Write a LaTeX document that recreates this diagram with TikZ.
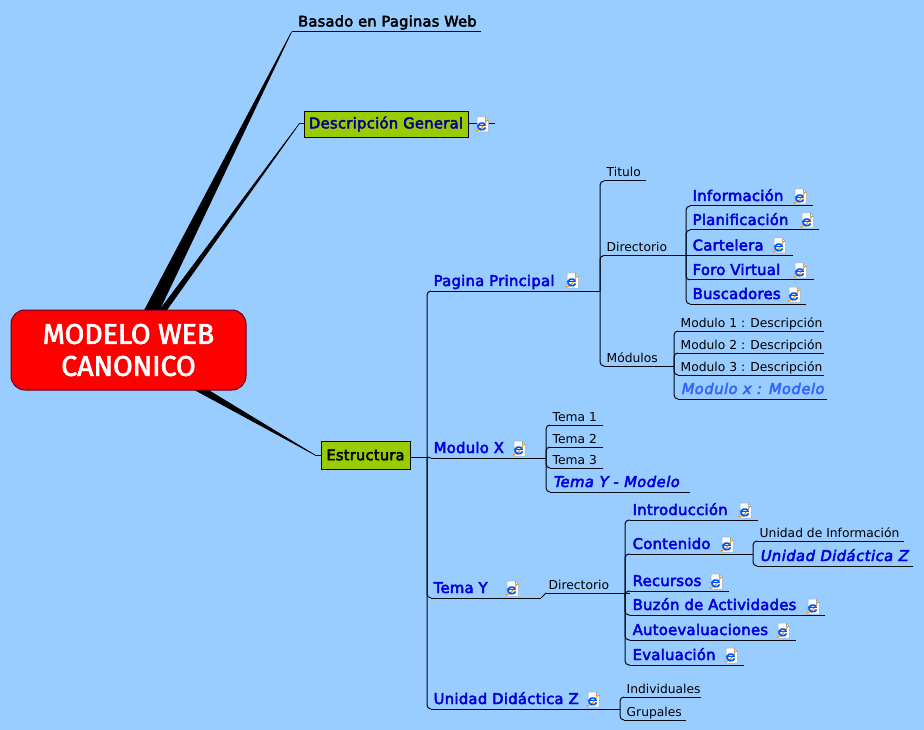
\documentclass[tikz,border=0pt]{standalone}
\usepackage{fontspec}
\setmainfont{DejaVu Sans}
\newfontfamily\semi[FakeBold=3.2,LetterSpace=1.8]{DejaVu Sans}
\newfontfamily\semiit[FakeBold=3.2,FakeSlant=0.2,LetterSpace=3.2]{DejaVu Sans}
\newfontfamily\rootf[FakeBold=2.5]{Fira Sans}
\definecolor{bgc}{HTML}{99CCFF}
\definecolor{linkblue}{HTML}{0000DD}
\definecolor{boxgreen}{HTML}{99CC00}
\definecolor{darkblue}{HTML}{000099}
\definecolor{modelblue}{HTML}{3366FF}
\definecolor{rootred}{HTML}{FF0000}
\definecolor{rootedge}{HTML}{660022}
\definecolor{linec}{HTML}{000814}
\tikzset{
  lbl/.style={anchor=base west,inner sep=0pt,yshift=-0.5pt,font=\fontsize{12.3}{14}\selectfont,text=black},
  bigl/.style={anchor=base west,inner sep=0pt,yshift=0.5pt,font=\semi\fontsize{14.8}{18}\selectfont,text=linkblue},
  itl/.style={anchor=base west,inner sep=0pt,yshift=0.5pt,font=\semiit\fontsize{14.8}{18}\selectfont,text=linkblue},
  topbox/.style={draw=black,fill=boxgreen,minimum height=26pt,inner sep=0pt,anchor=center},
  conn/.style={draw=linec,line width=1pt,rounded corners=4pt},
  wedge/.style={fill=black,draw=black,line width=.6pt,line join=round},
  pic page/.style={fill=white,draw=black!35,line width=.5pt},
}
\newcommand{\topic}[6][lbl]{%
  \coordinate (#2-a) at (#3,#5);
  \coordinate (#2-b) at (#4,#5);
  \draw[linec,line width=1pt] (#2-a) -- (#2-b);
  \node[#1] (#2) at (#3+2.5,#5-4.5) {#6};
}
\newcommand{\ieicon}[2]{%
  \begin{scope}[shift={(#1,#2)}]
    \path[pic page] (2,0) -- (10,0) -- (13.5,3.5) -- (13.5,15) -- (2,15) -- cycle;
    \draw[black!35,line width=.4pt] (10,0) -- (10,3.5) -- (13.5,3.5);
    \draw[color=orange!85!yellow,line width=1.1pt] (0.5,14) .. controls (2.5,15) and (10,9) .. (11.5,3.5);
    \draw[color=blue!65!cyan,line width=1.8pt] (10.6,10.6) arc (20:330:4 and 3.4);
    \draw[color=blue!65!cyan,line width=1.1pt] (3,8.6) -- (11,8.6);
  \end{scope}
}
\begin{document}
\begin{tikzpicture}[x=1pt,y=-1pt]
\useasboundingbox (0,0) rectangle (924,730);
\fill[bgc] (0,0) rectangle (924,730);

\coordinate (tipA) at (291.5,32);
\coordinate (tipB) at (299,124);
\coordinate (tipC) at (315,455);
\coordinate (wA1) at (144,311); \coordinate (wA2) at (159,311);
\coordinate (wB1) at (159,311); \coordinate (wB2) at (166,311);
\coordinate (wC1) at (195,390); \coordinate (wC2) at (208,390);
\fill[wedge,draw] (wA1) -- (tipA) -- (wA2) -- cycle;
\fill[wedge,draw] (wB1) -- (tipB) -- (wB2) -- cycle;
\fill[wedge,draw] (wC1) -- (tipC) -- (wC2) -- cycle;

\node[draw=rootedge,fill=rootred,rounded corners=14pt,line width=1pt,minimum width=235pt,minimum height=80pt,inner sep=0pt,align=center,text=white,font=\rootf\fontsize{28.5}{32}\selectfont] (root) at (128.5,350) {MODELO WEB\\CANONICO};

\topic[lbl,yshift=1.5pt,font=\semi\fontsize{14.6}{18}\selectfont]{basado}{292}{481}{32}{\hspace{3.5pt}Basado en Paginas Web}

\node[topbox,minimum width=164pt,text=darkblue,font=\semi\fontsize{14.8}{18}\selectfont] (desc) at (386,124) {Descripción General};
\coordinate (descEnd) at (495,124);
\draw[linec,line width=1pt] (tipB) -- (desc.west);
\draw[linec,line width=1pt] (desc.east) -- (descEnd);
\ieicon{475}{117}

\node[topbox,minimum width=89pt,minimum height=28pt,font=\semi\fontsize{14.6}{18}\selectfont] (estr) at (365.5,455) {Estructura};
\draw[linec,line width=1pt] (tipC) -- (estr.west);
\coordinate (trunkE) at (427,457);
\draw[linec,line width=1pt] (estr.east |- trunkE) -- (trunkE);

\topic[bigl]{pp}{431}{600}{291}{Pagina Principal}
\topic[bigl]{mx}{431}{546}{458}{Modulo X}
\topic[bigl]{ty}{431}{541}{598}{Tema Y}
\topic[bigl]{uz}{431}{620}{709}{Unidad Didáctica Z}
\draw[conn] (trunkE) |- (pp-a);
\draw[conn] (trunkE) |- (uz-a);
\draw[conn] (trunkE) -- (mx-a);
\draw[conn] (trunkE) |- (ty-a);

\coordinate (jpp) at (600,291);
\topic{tit}{604}{646}{181}{Titulo}
\topic{dir}{604}{690}{255.5}{Directorio}
\topic{mod}{604}{674}{366}{Módulos}
\draw[conn] (jpp) |- (tit-a);
\draw[conn] (jpp) |- (dir-a);
\draw[conn] (jpp) |- (mod-a);

\coordinate (jdir) at (686,255.5);
\topic[bigl]{inf}{690}{813}{206}{Información}
\topic[bigl]{pla}{690}{819}{230}{Planificación}
\topic[bigl]{car}{690}{793}{255.5}{Cartelera}
\topic[bigl]{for}{690}{814}{280}{Foro Virtual}
\topic[bigl]{bus}{690}{806}{304}{Buscadores}
\foreach \k in {inf,pla,for,bus} {\draw[conn] (jdir) |- (\k-a);}
\draw[conn] (jdir) -- (car-a);

\coordinate (jmod) at (674,366);
\topic{m1}{678}{824}{331}{Modulo 1 : Descripción}
\topic{m2}{678}{824}{353}{Modulo 2 : Descripción}
\topic{m3}{678}{824}{375}{Modulo 3 : Descripción}
\topic[itl,text=modelblue]{m4}{678}{827}{399}{Modulo x : Modelo}
\foreach \k in {m1,m2,m3,m4} {\draw[conn] (jmod) |- (\k-a);}

\coordinate (jmx) at (546,458);
\topic{t1}{550}{603}{425}{Tema 1}
\topic{t2}{550}{603}{447}{Tema 2}
\topic{t3}{550}{603}{468}{Tema 3}
\topic[itl]{t4}{550}{690}{492}{Tema Y - Modelo}
\foreach \k in {t1,t2,t3,t4} {\draw[conn] (jmx) |- (\k-a);}

\topic{dy}{546}{630}{593}{Directorio}
\draw[linec,line width=1pt] (ty-b) -- (dy-a);
\coordinate (jdy) at (625,593);
\topic[bigl]{in}{630}{758}{520}{Introducción}
\topic[bigl]{co}{630}{753}{554}{Contenido}
\topic[bigl]{re}{630}{729}{591}{Recursos}
\topic[bigl]{bu}{630}{825}{615}{Buzón de Actividades}
\topic[bigl]{au}{630}{796}{640}{Autoevaluaciones}
\topic[bigl]{ev}{630}{744}{665}{Evaluación}
\foreach \k in {in,co,re,bu,au,ev} {\draw[conn] (jdy) |- (\k-a);}

\coordinate (jco) at (753,554);
\topic{ui}{757}{904}{541}{Unidad de Información}
\topic[itl]{ud}{757}{913}{566}{Unidad Didáctica Z}
\draw[conn] (jco) |- (ui-a);
\draw[conn] (jco) |- (ud-a);

\coordinate (juz) at (620,709);
\topic{ind}{624}{701}{697}{Individuales}
\topic{gru}{624}{686}{720}{Grupales}
\draw[conn] (juz) |- (ind-a);
\draw[conn] (juz) |- (gru-a);

\ieicon{565}{273}
\ieicon{793}{189}
\ieicon{800}{213}
\ieicon{772}{238}
\ieicon{793}{263}
\ieicon{787}{287}
\ieicon{512}{441}
\ieicon{505}{581}
\ieicon{586}{692}
\ieicon{738}{503}
\ieicon{720}{537}
\ieicon{709}{574}
\ieicon{806}{599}
\ieicon{776}{623}
\ieicon{724}{648}
\end{tikzpicture}
\end{document}
